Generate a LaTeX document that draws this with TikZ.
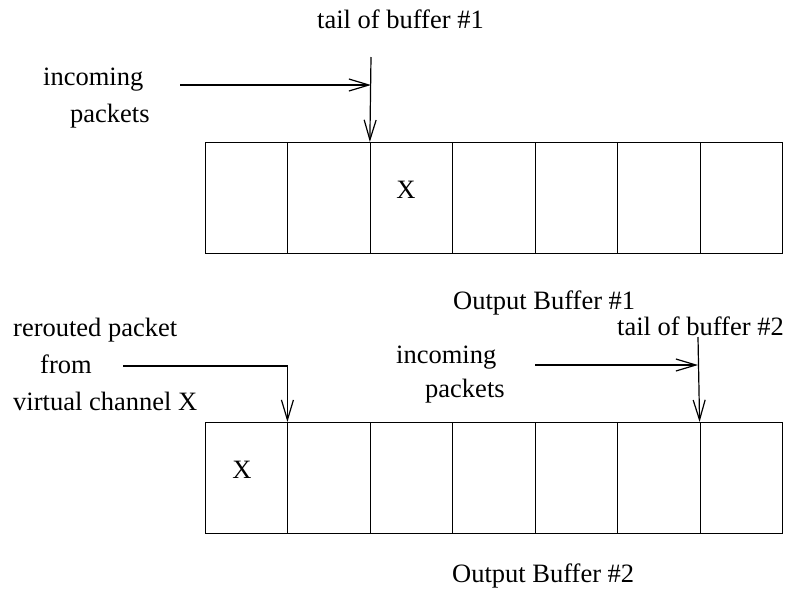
\documentclass[tikz,border=0pt]{standalone}
\usepackage{fontspec}
\setmainfont{Liberation Serif}
\usetikzlibrary{arrows.meta}
\begin{document}
\begin{tikzpicture}[x=1pt,y=-1pt,
  lbl/.style={inner sep=0pt,font=\fontsize{26.5}{30}\selectfont},
  cell/.style={draw,line width=0.7pt,rectangle,minimum width=82.43pt,minimum height=111pt,inner sep=0pt,anchor=north west},
  arr/.style={line width=1.2pt,-{Straight Barb[length=20pt,width=12pt]}}]
\useasboundingbox (0,0) rectangle (793,595);
% buffer 1
\foreach \i in {1,...,7}{
  \node[cell] (a\i) at ({205+(\i-1)*82.43},142) {};
}
% buffer 2
\foreach \i in {1,...,7}{
  \node[cell] (b\i) at ({205+(\i-1)*82.43},422) {};
}
% top labels
\node[lbl,anchor=base west] (t1) at (317,28) {tail of buffer \#1};
\node[lbl,anchor=base west] (in1) at (43,85) {incoming};
\node[lbl,anchor=base west] (pk1) at (70,122) {packets};
\node[lbl,anchor=base] (x1) at (406,198) {X};
\node[lbl,anchor=base west] (ob1) at (453,309) {Output Buffer \#1};
\coordinate (h1s) at (180,85);
\coordinate (h1e) at (371,85);
\coordinate (v1s) at (371,57);
\draw[arr] (h1s) -- (h1e);
\draw[arr] (v1s) -- (a3.north west);
% bottom labels
\node[lbl,anchor=base west] (r1) at (13,336) {rerouted packet};
\node[lbl,anchor=base west] (r2) at (40,373) {from};
\node[lbl,anchor=base west] (r3) at (13,410) {virtual channel X};
\node[lbl,anchor=base west] (t2) at (617,335) {tail of buffer \#2};
\node[lbl,anchor=base west] (in2) at (396,363) {incoming};
\node[lbl,anchor=base west] (pk2) at (425,397) {packets};
\node[lbl,anchor=base] (x2) at (242,478) {X};
\node[lbl,anchor=base west] (ob2) at (452,582) {Output Buffer \#2};
\coordinate (rs) at (123,366);
\draw[arr] (rs) -| (b2.north west);
\coordinate (h2s) at (535,365);
\coordinate (h2e) at (698,365);
\coordinate (v2s) at (698,337);
\draw[arr] (h2s) -- (h2e);
\draw[arr] (v2s) -- (b7.north west);
\end{tikzpicture}
\end{document}
